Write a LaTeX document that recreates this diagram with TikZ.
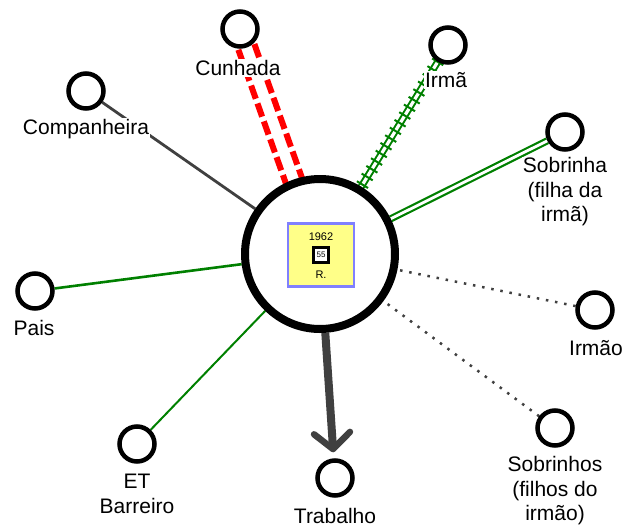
\documentclass[tikz,border=0pt]{standalone}
\usepackage{fontspec}
\setmainfont{Liberation Sans}
\usetikzlibrary{arrows.meta,backgrounds,calc,decorations.markings}
\definecolor{gr}{RGB}{0,128,0}
\definecolor{dgray}{RGB}{64,64,64}
\definecolor{redc}{RGB}{255,0,0}
\definecolor{yfill}{RGB}{255,255,136}
\definecolor{bdraw}{RGB}{128,128,255}
\begin{document}
\begin{tikzpicture}[x=1pt,y=-1pt,
  person/.style={circle, draw=black, line width=4.5pt, fill=white, minimum size=35pt, inner sep=0pt},
  ego/.style={circle, draw=black, line width=8pt, fill=white, minimum size=150pt, inner sep=0pt},
  lbl/.style={fill=white, inner sep=1pt, align=center, font=\fontsize{21}{24.5}\selectfont},
  small/.style={font=\fontsize{11}{12}\selectfont, inner sep=0pt},
  redline/.style={draw=redc, line width=6pt, dash pattern=on 14pt off 5pt},
  dotline/.style={draw=dgray, line width=2.5pt, dash pattern=on 2.5pt off 6.8pt},
  ladder/.style={postaction={decorate}, decoration={markings, mark=between positions 0 and 1 step 9pt with {\draw[gr, line width=2pt] (0pt,-6.5pt) -- (0pt,6.5pt);}}}
]
\useasboundingbox (0,0) rectangle (627,528);
% ego
\node[ego] (main) at (320,254) {};
\node[draw=bdraw, fill=yfill, line width=2.5pt, minimum width=66pt, minimum height=63pt, inner sep=0pt] (yb) at (321,255) {};
\node[small] (yr) at (321,237) {1962};
\node[draw=black, line width=3pt, fill=white, minimum size=15pt, inner sep=0pt, font=\fontsize{8}{9}\selectfont] (age) at (321,255) {55};
\node[small] (nm) at (321,275) {R.};
% alters
\node[person] (cun) at (240,29) {};
\node[person] (irm) at (448,45) {};
\node[person] (comp) at (86,91) {};
\node[person] (sobf) at (565,132) {};
\node[person] (irmao) at (595,310) {};
\node[person] (sobs) at (555,428) {};
\node[person] (pais) at (35,291) {};
\node[person] (et) at (137,444) {};
\node[person] (trab) at (335,478) {};
% connectors
\begin{scope}[on background layer]
\draw[dgray, line width=2.8pt] (comp) -- (main);
\draw[redline] ($(cun)!8.5pt!90:(main)$) -- ($(main)!8.5pt!-90:(cun)$);
\draw[redline] ($(cun)!8.5pt!-90:(main)$) -- ($(main)!8.5pt!90:(cun)$);
\draw[gr, line width=2pt, double=white, double distance=3.2pt] (irm) -- (main);
\path[ladder] (irm) -- (main);
\draw[gr, line width=2.2pt, double=white, double distance=2.8pt] (sobf) -- (main);
\draw[gr, line width=2.6pt] (pais) -- (main);
\draw[gr, line width=2pt] (et) -- (main);
\draw[dotline] (irmao) -- (main);
\draw[dotline] (sobs) -- (main);
\draw[dgray, line width=8pt, -{Straight Barb[length=16pt, width=36pt, line width=6.5pt, round]}, shorten >=6pt] (main) -- (trab);
\end{scope}
% labels
\node[lbl] (lcun) at (238,68) {Cunhada};
\node[lbl] (lirm) at (446,80) {Irmã};
\node[lbl] (lcomp) at (86,129) {Companheira};
\node[lbl] (lsobf) at (565,192) {Sobrinha\\(filha da\\irmã)};
\node[lbl] (lirmao) at (596,348) {Irmão};
\node[lbl] (lsobs) at (555,491) {Sobrinhos\\(filhos do\\irmão)};
\node[lbl] (lpais) at (34,328) {Pais};
\node[lbl] (let) at (137,494) {ET\\Barreiro};
\node[lbl] (ltrab) at (335,516) {Trabalho};
\end{tikzpicture}
\end{document}
